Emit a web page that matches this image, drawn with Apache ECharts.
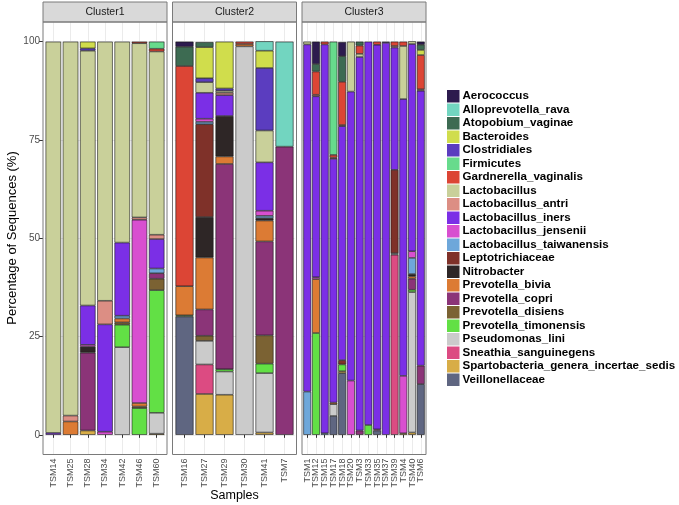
<!DOCTYPE html>
<html><head><meta charset="utf-8">
<script src="https://cdn.jsdelivr.net/npm/echarts@6/dist/echarts.min.js"></script>
<style>html,body{margin:0;padding:0;background:#fff}#c{width:679px;height:505px}</style>
</head><body><div id="c"></div>
<script>
const taxa = ['Aerococcus','Alloprevotella_rava','Atopobium_vaginae','Bacteroides','Clostridiales','Firmicutes','Gardnerella_vaginalis','Lactobacillus','Lactobacillus_antri','Lactobacillus_iners','Lactobacillus_jensenii','Lactobacillus_taiwanensis','Leptotrichiaceae','Nitrobacter','Prevotella_bivia','Prevotella_copri','Prevotella_disiens','Prevotella_timonensis','Pseudomonas_lini','Sneathia_sanguinegens','Spartobacteria_genera_incertae_sedis','Veillonellaceae'];
const taxaColors = ['#2d1b4e','#72d5c0','#3d6b52','#d0dd4c','#5b3dbf','#67db8c','#dc4535','#c9d09a','#dc8e84','#7b2fe6','#d84fd0','#6ea7da','#7f3129','#2e2626','#dc7b34','#8b3478','#7b6233','#62e045','#cbcbcb','#dc4b82','#d8ad47','#5f6681'];
const clusterNames = ['Cluster1','Cluster2','Cluster3'];
const cluster1Samples = ['TSM14','TSM25','TSM28','TSM34','TSM42','TSM46','TSM60'];
const cluster2Samples = ['TSM16','TSM27','TSM29','TSM30','TSM41','TSM7'];
const cluster3Samples = ['TSM1','TSM12','TSM15','TSM17','TSM18','TSM20','TSM3','TSM33','TSM35','TSM37','TSM39','TSM4','TSM40','TSM6'];
const yTicks = [0,25,50,75,100];

// Percentage of sequences per taxon, one object per sample (same order as samples)
const cluster1Values = [
  {Lactobacillus_iners:0.5, Lactobacillus:99.5},
  {Prevotella_bivia:3.4, Lactobacillus_antri:1.5, Lactobacillus:95.1},
  {Spartobacteria_genera_incertae_sedis:1.1, Prevotella_copri:19.8, Nitrobacter:1.5, Lactobacillus_jensenii:0.5, Lactobacillus_iners:10, Lactobacillus:64.8, Clostridiales:0.6, Bacteroides:1.7},
  {Lactobacillus_jensenii:0.8, Lactobacillus_iners:27.3, Lactobacillus_antri:6, Lactobacillus:65.9},
  {Pseudomonas_lini:22.3, Prevotella_timonensis:5.7, Prevotella_disiens:0.6, Prevotella_bivia:1, Lactobacillus_taiwanensis:0.7, Lactobacillus_iners:18.6, Lactobacillus:51.1},
  {Prevotella_timonensis:6.8, Prevotella_disiens:0.4, Prevotella_bivia:0.9, Lactobacillus_jensenii:46.6, Lactobacillus_antri:0.6, Lactobacillus:44.3, Gardnerella_vaginalis:0.4},
  {Spartobacteria_genera_incertae_sedis:0.3, Pseudomonas_lini:5.3, Prevotella_timonensis:31.2, Prevotella_disiens:2.9, Prevotella_copri:1.4, Lactobacillus_taiwanensis:1.2, Lactobacillus_iners:7.5, Lactobacillus_antri:1.1, Lactobacillus:46.6, Gardnerella_vaginalis:0.7, Firmicutes:1.8}
];
const cluster2Values = [
  {Veillonellaceae:30.1, Prevotella_timonensis:0.3, Prevotella_bivia:7.4, Gardnerella_vaginalis:56, Atopobium_vaginae:4.9, Aerococcus:1.3},
  {Spartobacteria_genera_incertae_sedis:10.4, Sneathia_sanguinegens:7.5, Pseudomonas_lini:6, Prevotella_disiens:1.3, Prevotella_copri:6.7, Prevotella_bivia:13.2, Nitrobacter:10.3, Leptotrichiaceae:23.6, Lactobacillus_taiwanensis:0.6, Lactobacillus_jensenii:0.8, Lactobacillus_iners:6.6, Lactobacillus:2.7, Clostridiales:1, Bacteroides:7.9, Atopobium_vaginae:1.3},
  {Spartobacteria_genera_incertae_sedis:10.2, Pseudomonas_lini:5.9, Prevotella_timonensis:0.6, Prevotella_copri:52.2, Prevotella_bivia:1.9, Nitrobacter:10.3, Lactobacillus_iners:5.3, Lactobacillus_antri:0.6, Lactobacillus:0.5, Clostridiales:0.6, Bacteroides:11.9},
  {Pseudomonas_lini:98.8, Prevotella_bivia:0.6, Gardnerella_vaginalis:0.6},
  {Spartobacteria_genera_incertae_sedis:0.6, Pseudomonas_lini:15.1, Prevotella_timonensis:2.4, Prevotella_disiens:7.2, Prevotella_copri:23.9, Prevotella_bivia:5.3, Nitrobacter:0.6, Lactobacillus_taiwanensis:0.6, Lactobacillus_jensenii:1.3, Lactobacillus_iners:12.3, Lactobacillus:8.1, Clostridiales:15.9, Bacteroides:4.4, Alloprevotella_rava:2.4},
  {Prevotella_copri:73.3, Alloprevotella_rava:26.7}
];
const cluster3Values = [
  {Lactobacillus_taiwanensis:11, Lactobacillus_iners:88.3, Lactobacillus:0.7},
  {Prevotella_timonensis:25.9, Prevotella_bivia:13.7, Lactobacillus_jensenii:0.5, Lactobacillus_iners:46, Lactobacillus_antri:0.4, Gardnerella_vaginalis:5.9, Atopobium_vaginae:1.9, Aerococcus:5.7},
  {Lactobacillus_taiwanensis:0.4, Lactobacillus_iners:98.9, Gardnerella_vaginalis:0.7},
  {Veillonellaceae:4.8, Pseudomonas_lini:3, Prevotella_bivia:0.4, Lactobacillus_iners:62, Lactobacillus_antri:0.3, Gardnerella_vaginalis:0.7, Firmicutes:28.8},
  {Veillonellaceae:15.7, Spartobacteria_genera_incertae_sedis:0.5, Prevotella_timonensis:1.7, Leptotrichiaceae:1.1, Lactobacillus_iners:59.5, Lactobacillus_antri:0.3, Gardnerella_vaginalis:11, Atopobium_vaginae:6.5, Aerococcus:3.6},
  {Lactobacillus_jensenii:13.8, Lactobacillus_iners:73.5, Lactobacillus:12.7},
  {Prevotella_copri:1.1, Lactobacillus_iners:95, Lactobacillus:0.8, Gardnerella_vaginalis:2.1, Atopobium_vaginae:1},
  {Prevotella_timonensis:2.5, Lactobacillus_iners:97.5},
  {Veillonellaceae:1.1, Lactobacillus_jensenii:0.3, Lactobacillus_iners:97.8, Gardnerella_vaginalis:0.8},
  {Lactobacillus_iners:99.7, Clostridiales:0.3},
  {Sneathia_sanguinegens:45.8, Pseudomonas_lini:0.4, Leptotrichiaceae:21.2, Lactobacillus_iners:31.1, Lactobacillus_antri:0.4, Gardnerella_vaginalis:1.1},
  {Spartobacteria_genera_incertae_sedis:0.4, Lactobacillus_jensenii:14.6, Lactobacillus_iners:70.4, Lactobacillus:13.5, Gardnerella_vaginalis:1.1},
  {Spartobacteria_genera_incertae_sedis:0.6, Pseudomonas_lini:35.7, Prevotella_timonensis:0.6, Prevotella_copri:2.8, Prevotella_bivia:0.6, Nitrobacter:0.6, Lactobacillus_taiwanensis:4.1, Lactobacillus_jensenii:1.7, Lactobacillus_iners:52.7, Lactobacillus:0.7},
  {Veillonellaceae:12.9, Prevotella_copri:4.7, Lactobacillus_iners:69.9, Lactobacillus_antri:0.4, Gardnerella_vaginalis:8.7, Bacteroides:1.3, Atopobium_vaginae:1.3, Aerococcus:0.8}
];

const clusters = [
  {name: clusterNames[0], samples: cluster1Samples, values: cluster1Values},
  {name: clusterNames[1], samples: cluster2Samples, values: cluster2Values},
  {name: clusterNames[2], samples: cluster3Samples, values: cluster3Values}
];

const FONT = 'Liberation Sans, Arial, sans-serif';
const panelLeft = [43, 172.5, 302];
const panelW = 124;
const panelTop = 22;
const panelBottom = 454.5;
const stripTop = 2;

const grids = [], xAxes = [], yAxes = [], series = [], graphics = [];
clusters.forEach((cl, p) => {
  const n = cl.samples.length;
  const unit = panelW / (n + 0.2);
  const inset = 0.1 * unit;
  grids.push({left: panelLeft[p] + inset, width: panelW - 2 * inset, top: panelTop, height: panelBottom - panelTop});
  xAxes.push({
    type: 'category', gridIndex: p, data: cl.samples, boundaryGap: true,
    axisLine: {show: false},
    axisTick: {show: true, alignWithLabel: true, length: 3, lineStyle: {color: '#333'}},
    axisLabel: {rotate: 90, fontSize: 9, color: '#4d4d4d', margin: 4, interval: 0, fontFamily: FONT},
    splitLine: {show: true, alignWithLabel: true, lineStyle: {color: '#ebebeb', width: 1}}
  });
  yAxes.push({
    type: 'value', gridIndex: p, min: -5, max: 105, offset: inset,
    axisLine: {show: false},
    axisTick: {show: p === 0, customValues: yTicks, length: 4, lineStyle: {color: '#333'}},
    axisLabel: {show: p === 0, customValues: yTicks, fontSize: 10, color: '#4d4d4d', margin: 3, fontFamily: FONT},
    splitLine: {show: true, lineStyle: {color: '#ebebeb', width: 1}}
  });
  for (let t = taxa.length - 1; t >= 0; t--) {
    const name = taxa[t];
    series.push({
      type: 'bar', name: name, xAxisIndex: p, yAxisIndex: p, stack: 'panel' + p,
      barWidth: '90%',
      data: cl.values.map(v => (v[name] ? v[name] : '-')),
      itemStyle: {color: taxaColors[t], borderColor: '#151515', borderWidth: 0.6},
      emphasis: {disabled: true},
      animation: false
    });
  }
  // strip
  graphics.push({type: 'rect', z: 100, shape: {x: panelLeft[p], y: stripTop, width: panelW, height: panelTop - stripTop},
    style: {fill: '#d9d9d9', stroke: '#7a7a7a', lineWidth: 1}});
  graphics.push({type: 'text', z: 101, x: panelLeft[p] + panelW / 2, y: (stripTop + panelTop) / 2,
    style: {text: cl.name, fontSize: 10.5, fill: '#1a1a1a', fontFamily: FONT, textAlign: 'center', textVerticalAlign: 'middle'}});
  // panel border
  graphics.push({type: 'rect', z: 100, shape: {x: panelLeft[p], y: panelTop, width: panelW, height: panelBottom - panelTop},
    style: {fill: 'none', stroke: '#7a7a7a', lineWidth: 1}});
});

graphics.push({type: 'text', z: 100, x: 12, y: 238, rotation: Math.PI / 2,
  style: {text: 'Percentage of Sequences (%)', fontSize: 13, fill: '#000', fontFamily: FONT, textAlign: 'center', textVerticalAlign: 'middle'}});
graphics.push({type: 'text', z: 100, x: (panelLeft[0] + panelLeft[2] + panelW) / 2, y: 496,
  style: {text: 'Samples', fontSize: 12.5, fill: '#000', fontFamily: FONT, textAlign: 'center', textVerticalAlign: 'middle'}});

const chart = echarts.init(document.getElementById('c'), null, {renderer: 'canvas'});
chart.setOption({
  animation: false,
  textStyle: {fontFamily: FONT},
  grid: grids, xAxis: xAxes, yAxis: yAxes, series: series,
  legend: {
    orient: 'vertical', left: 447, top: 90, padding: 0, itemWidth: 12.5, itemHeight: 12.5, itemGap: 1,
    icon: 'rect', data: taxa, selectedMode: false,
    itemStyle: {borderWidth: 0},
    textStyle: {fontSize: 11.6, fontWeight: 'bold', color: '#000', fontFamily: FONT, padding: [0, 0, 0, -2]}
  },
  graphic: {elements: graphics}
});
</script></body></html>
